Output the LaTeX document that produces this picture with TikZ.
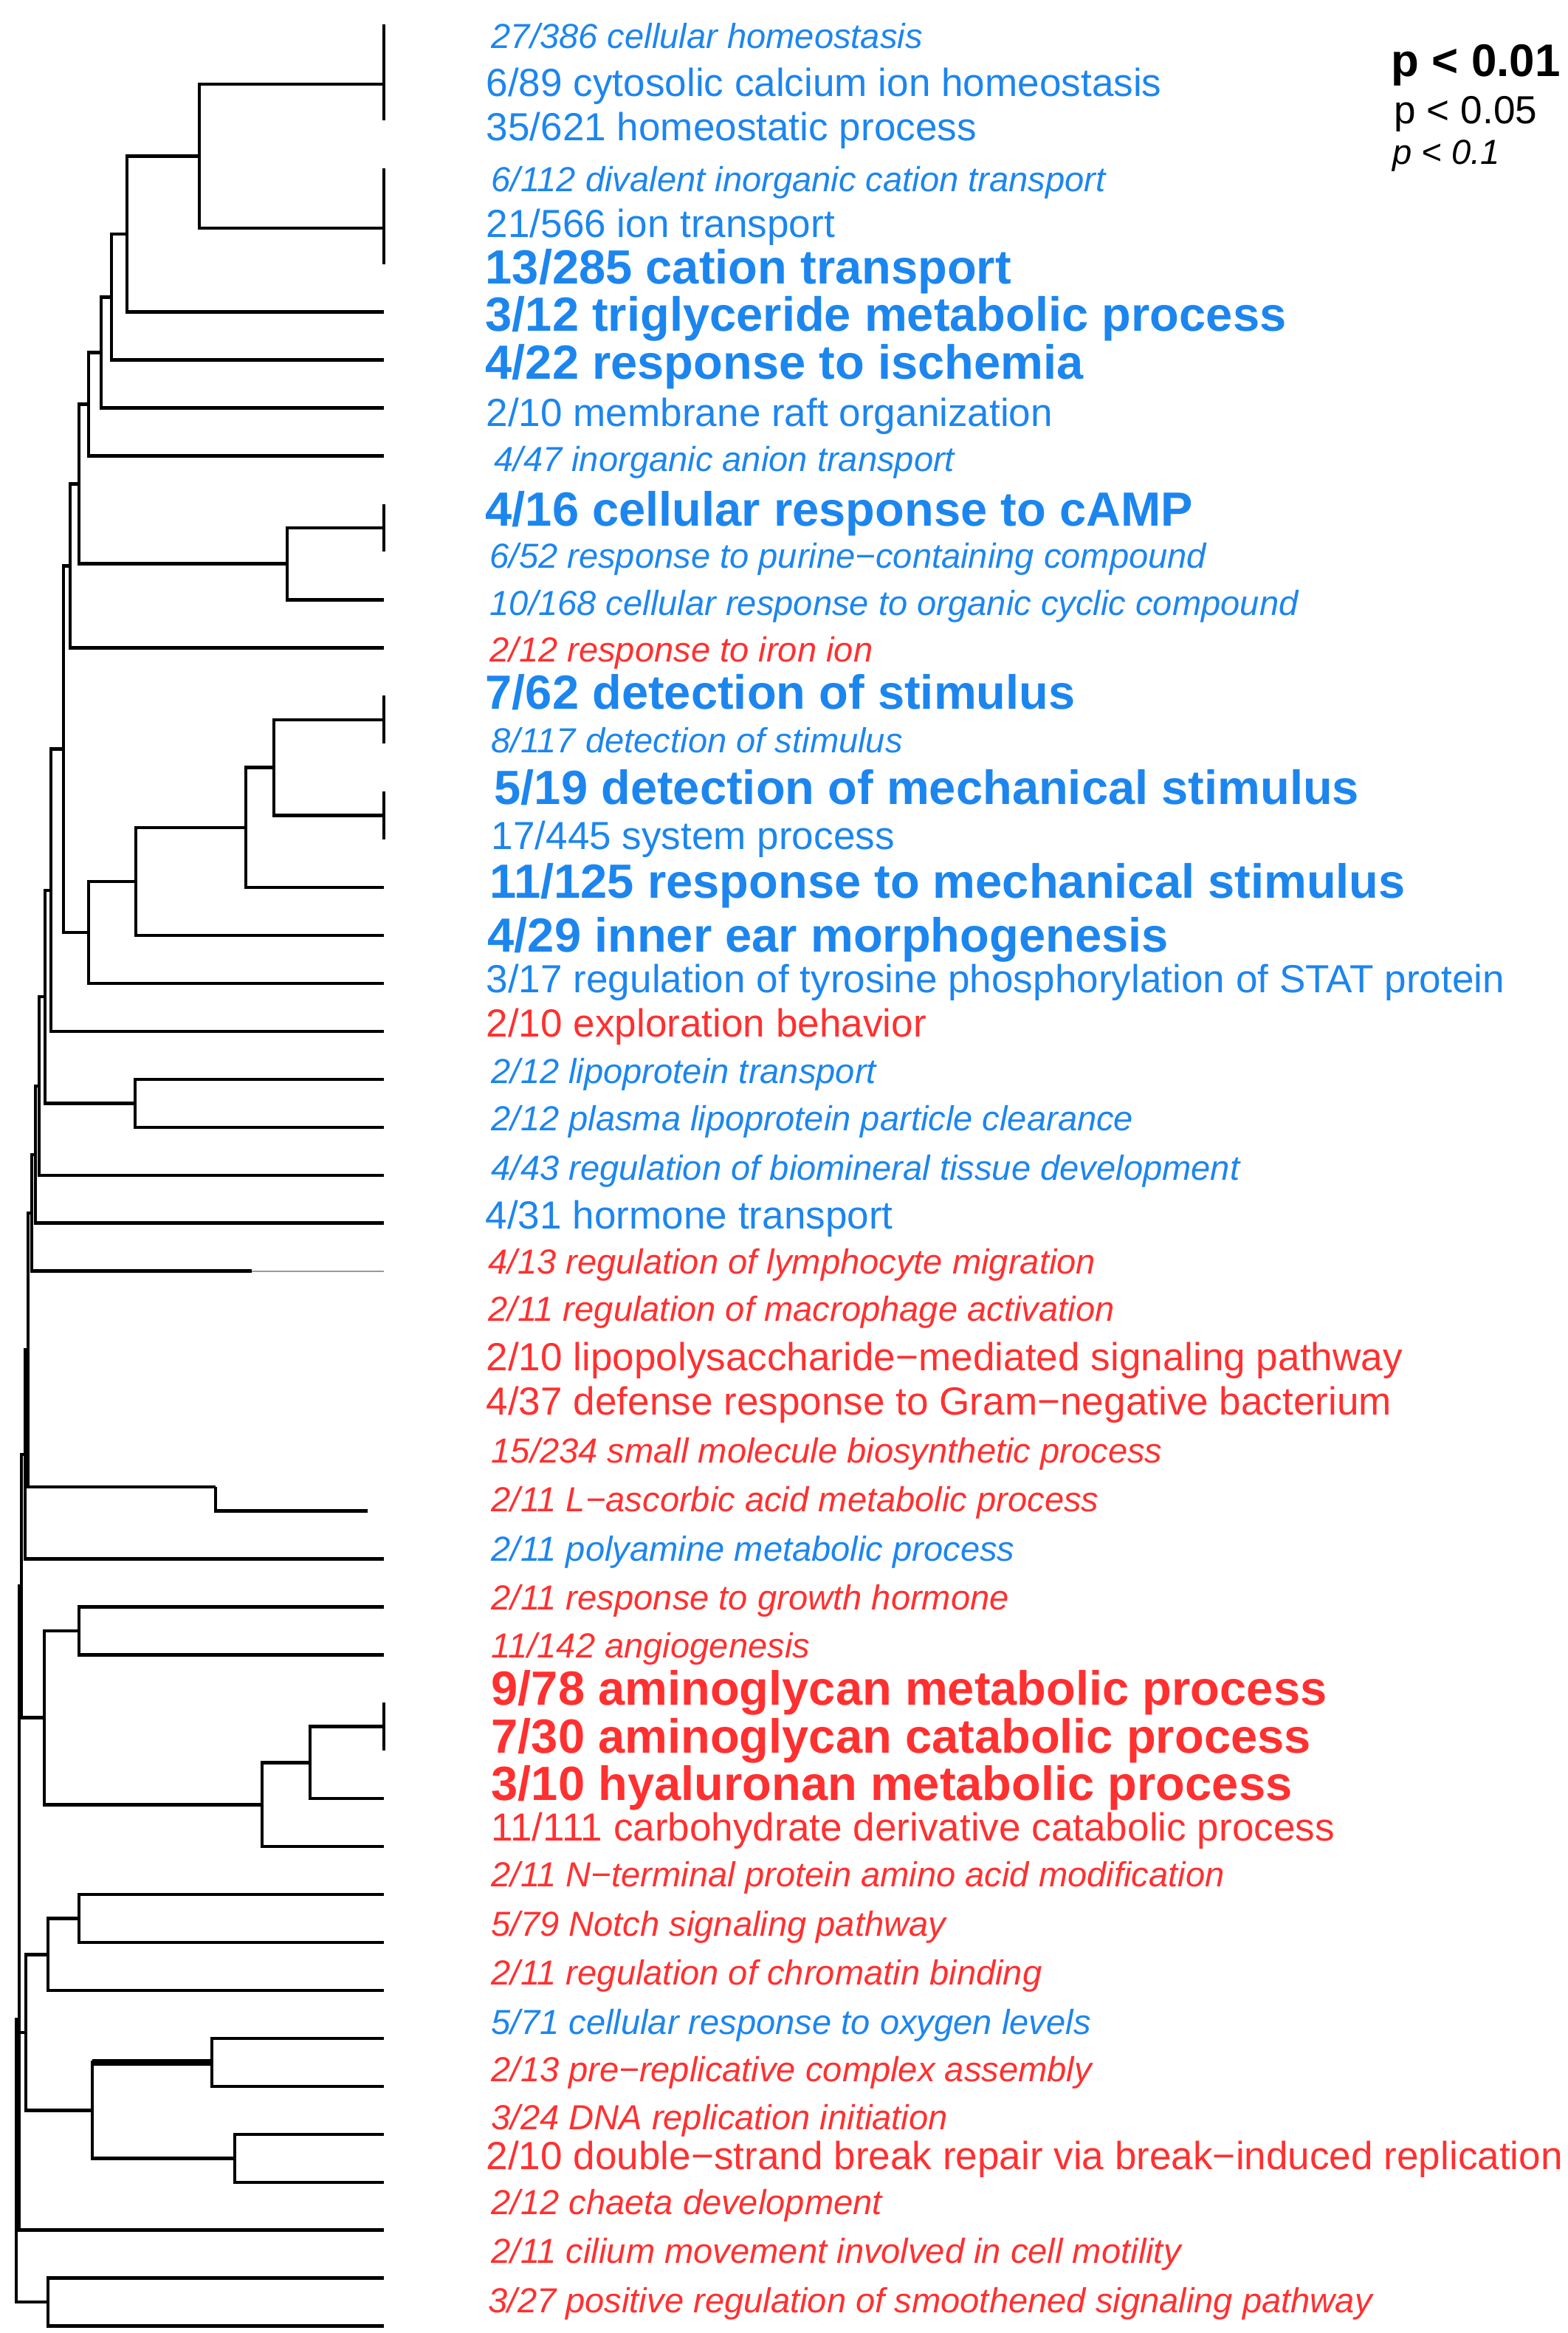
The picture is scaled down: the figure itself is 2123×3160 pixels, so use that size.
\documentclass[tikz,border=0pt]{standalone}
\usepackage{fontspec}
\setmainfont{Liberation Sans}
\usepackage{tikz}
\usetikzlibrary{calc}

\definecolor{goblue}{HTML}{1C86EE}
\definecolor{gored}{HTML}{FF3030}

\begin{document}
\begin{tikzpicture}
  [
    x = 0.01cm, y = -0.01cm,
    branch/.style = {draw, line width = 1.3pt},
    sig1/.style   = {anchor = base west, inner sep = 0pt, yshift = -0.23cm,
                     font = \fontsize{18.5}{22}\selectfont\bfseries},
    sig5/.style   = {anchor = base west, inner sep = 0pt, yshift = -0.19cm,
                     font = \fontsize{15.1}{18}\selectfont},
    sig10/.style  = {anchor = base west, inner sep = 0pt, yshift = -0.17cm,
                     font = \fontsize{13.4}{16}\selectfont\itshape},
  ]

  \useasboundingbox (0,0) rectangle (2123,3160);

  % leaves: every term sits at height zero
  \foreach \i in {1,...,49}
    \coordinate (l\i) at (520, {33 + 64.95*(\i-1)});

  % the two leaves that are drawn short / faded in the source
  \coordinate (f27) at (341,0 |- l27);
  \coordinate (e32) at (498,0 |- l32);

  % merges: name / height / first child / second child
  \foreach \n/\h/\a/\b in {
      b1/520/l1/l2, b2/520/b1/l3, b3/520/l4/l5, b4/520/b3/l6,
      nA/270/b2/b4, nB/172/nA/l7, nC/151/nB/l8, nD/137/nC/l9,
      nE/120/nD/l10, b5/520/l11/l12, nG/389/b5/l13, nF/107/nE/nG,
      nH/95/nF/l14,
      b6/520/l15/l16, b7/520/l17/l18, nJ/371/b6/b7, nK/333/nJ/l19,
      nL/184/nK/l20, nM/120/nL/l21, nI/86/nH/nM, nN/69/nI/l22,
      nO/183/l23/l24, nP/61/nN/nO, nQ/53/nP/l25, nR/48/nQ/l26,
      nS/43/nR/f27,
      n34/107/l34/l35, b8/520/l36/l37, n36/420/b8/l38, n37/355/n36/l39,
      nV/60/n34/n37,
      n40/107/l40/l41, n41/65/n40/l42, n43/287/l43/l44, n45/318/l45/l46,
      n44/125/n43/n45, nZ/35/n41/n44, nBB/65/l48/l49}
    {
      \path ($(\a)!.5!(\b)$) coordinate (mid);
      \coordinate (\n) at (\h,0 |- mid);
      \draw[branch] (\n) |- (\a) (\n) |- (\b);
    }

  % faded end of leaf 27
  \draw[line width = 0.6pt, black!40] (f27) -- (l27);

  % only the lower half of this pair survives
  \path ($(l31)!.5!(l32)$) coordinate (mid);
  \coordinate (nU) at (292,0 |- mid);
  \draw[branch] (nU) |- (e32);

  % the spine
  \foreach \n/\h/\a/\b in {
      nT/38/nS/nU, nW/34/nT/l33, nX/29/nW/nV,
      nY/26/nX/nZ, nAA/26/nY/l47, root/22/nAA/nBB}
    {
      \path ($(\a)!.5!(\b)$) coordinate (mid);
      \coordinate (\n) at (\h,0 |- mid);
      \draw[branch] (\n) |- (\a) (\n) |- (\b);
    }

  % heavier stroke on one branch
  \draw[branch, line width = 2.4pt] (n44 |- n43) -- (n43);

  % GO terms
  \node[sig10, goblue] (t1)  at (665,  48) {27/386 cellular homeostasis};
  \node[sig5,  goblue] (t2)  at (658, 111) {6/89 cytosolic calcium ion homeostasis};
  \node[sig5,  goblue] (t3)  at (658, 171) {35/621 homeostatic process};
  \node[sig10, goblue] (t4)  at (665, 242) {6/112 divalent inorganic cation transport};
  \node[sig5,  goblue] (t5)  at (658, 302) {21/566 ion transport};
  \node[sig1,  goblue] (t6)  at (657, 361) {13/285 cation transport};
  \node[sig1,  goblue] (t7)  at (657, 425) {3/12 triglyceride metabolic process};
  \node[sig1,  goblue] (t8)  at (657, 490) {4/22 response to ischemia};
  \node[sig5,  goblue] (t9)  at (658, 558) {2/10 membrane raft organization};
  \node[sig10, goblue] (t10) at (669, 621) {4/47 inorganic anion transport};
  \node[sig1,  goblue] (t11) at (657, 689) {4/16 cellular response to cAMP};
  \node[sig10, goblue] (t12) at (663, 752) {6/52 response to purine−containing compound};
  \node[sig10, goblue] (t13) at (663, 816) {10/168 cellular response to organic cyclic compound};
  \node[sig10, gored]  (t14) at (663, 879) {2/12 response to iron ion};
  \node[sig1,  goblue] (t15) at (657, 937) {7/62 detection of stimulus};
  \node[sig10, goblue] (t16) at (665, 1002) {8/117 detection of stimulus};
  \node[sig1,  goblue] (t17) at (669, 1066) {5/19 detection of mechanical stimulus};
  \node[sig5,  goblue] (t18) at (665, 1131) {17/445 system process};
  \node[sig1,  goblue] (t19) at (663, 1193) {11/125 response to mechanical stimulus};
  \node[sig1,  goblue] (t20) at (660, 1266) {4/29 inner ear morphogenesis};
  \node[sig5,  goblue] (t21) at (658, 1325) {3/17 regulation of tyrosine phosphorylation of STAT protein};
  \node[sig5,  gored]  (t22) at (658, 1385) {2/10 exploration behavior};
  \node[sig10, goblue] (t23) at (665, 1450) {2/12 lipoprotein transport};
  \node[sig10, goblue] (t24) at (665, 1514) {2/12 plasma lipoprotein particle clearance};
  \node[sig10, goblue] (t25) at (665, 1581) {4/43 regulation of biomineral tissue development};
  \node[sig5,  goblue] (t26) at (657, 1645) {4/31 hormone transport};
  \node[sig10, gored]  (t27) at (661, 1708) {4/13 regulation of lymphocyte migration};
  \node[sig10, gored]  (t28) at (661, 1772) {2/11 regulation of macrophage activation};
  \node[sig5,  gored]  (t29) at (658, 1837) {2/10 lipopolysaccharide−mediated signaling pathway};
  \node[sig5,  gored]  (t30) at (658, 1897) {4/37 defense response to Gram−negative bacterium};
  \node[sig10, gored]  (t31) at (665, 1964) {15/234 small molecule biosynthetic process};
  \node[sig10, gored]  (t32) at (665, 2030) {2/11 L−ascorbic acid metabolic process};
  \node[sig10, goblue] (t33) at (665, 2097) {2/11 polyamine metabolic process};
  \node[sig10, gored]  (t34) at (665, 2163) {2/11 response to growth hormone};
  \node[sig10, gored]  (t35) at (665, 2228) {11/142 angiogenesis};
  \node[sig1,  gored]  (t36) at (665, 2286) {9/78 aminoglycan metabolic process};
  \node[sig1,  gored]  (t37) at (665, 2351) {7/30 aminoglycan catabolic process};
  \node[sig1,  gored]  (t38) at (665, 2415) {3/10 hyaluronan metabolic process};
  \node[sig5,  gored]  (t39) at (665, 2474) {11/111 carbohydrate derivative catabolic process};
  \node[sig10, gored]  (t40) at (665, 2538) {2/11 N−terminal protein amino acid modification};
  \node[sig10, gored]  (t41) at (665, 2605) {5/79 Notch signaling pathway};
  \node[sig10, gored]  (t42) at (665, 2671) {2/11 regulation of chromatin binding};
  \node[sig10, goblue] (t43) at (665, 2738) {5/71 cellular response to oxygen levels};
  \node[sig10, gored]  (t44) at (665, 2802) {2/13 pre−replicative complex assembly};
  \node[sig10, gored]  (t45) at (665, 2867) {3/24 DNA replication initiation};
  \node[sig5,  gored]  (t46) at (658, 2919) {2/10 double−strand break repair via break−induced replication};
  \node[sig10, gored]  (t47) at (665, 2982) {2/12 chaeta development};
  \node[sig10, gored]  (t48) at (665, 3048) {2/11 cilium movement involved in cell motility};
  \node[sig10, gored]  (t49) at (661, 3115) {3/27 positive regulation of smoothened signaling pathway};

  % significance key
  \node[sig1, font = \fontsize{17.6}{21}\selectfont\bfseries]
               (p01) at (1884,  80) {p < 0.01};
  \node[sig5]  (p05) at (1888, 148) {p < 0.05};
  \node[sig10] (p10) at (1886, 205) {p < 0.1};
\end{tikzpicture}
\end{document}
